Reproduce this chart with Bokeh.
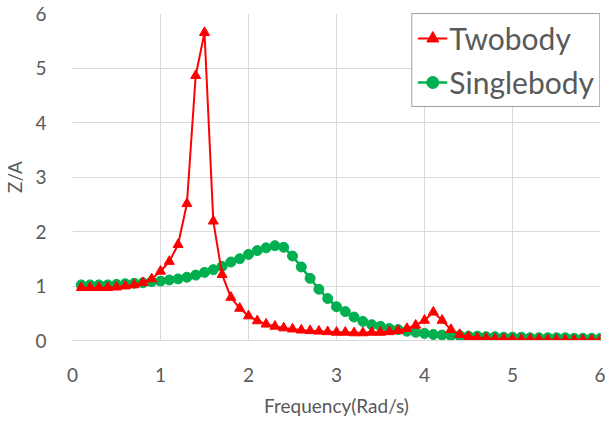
from bokeh.plotting import figure
from bokeh.embed import file_html
from bokeh.resources import INLINE
from bokeh.models import Range1d, FixedTicker, Legend

freq = [0.1, 0.2, 0.3, 0.4, 0.5, 0.6, 0.7, 0.8, 0.9, 1.0,
        1.1, 1.2, 1.3, 1.4, 1.5, 1.6, 1.7, 1.8, 1.9, 2.0,
        2.1, 2.2, 2.3, 2.4, 2.5, 2.6, 2.7, 2.8, 2.9, 3.0,
        3.1, 3.2, 3.3, 3.4, 3.5, 3.6, 3.7, 3.8, 3.9, 4.0,
        4.1, 4.2, 4.3, 4.4, 4.5, 4.6, 4.7, 4.8, 4.9, 5.0,
        5.1, 5.2, 5.3, 5.4, 5.5, 5.6, 5.7, 5.8, 5.9, 6.0]

twobody = [0.97, 0.97, 0.97, 0.97, 0.98, 1.00, 1.02, 1.06, 1.13, 1.27,
           1.45, 1.76, 2.51, 4.86, 5.65, 2.19, 1.21, 0.79, 0.59, 0.45,
           0.36, 0.30, 0.26, 0.23, 0.21, 0.19, 0.18, 0.17, 0.16, 0.15,
           0.15, 0.14, 0.14, 0.15, 0.15, 0.16, 0.18, 0.22, 0.28, 0.37,
           0.52, 0.37, 0.20, 0.11, 0.07, 0.05, 0.04, 0.03, 0.03, 0.02,
           0.02, 0.02, 0.02, 0.01, 0.01, 0.01, 0.01, 0.01, 0.01, 0.01]

singlebody = [1.02, 1.02, 1.02, 1.02, 1.03, 1.04, 1.05, 1.06, 1.08, 1.09,
              1.11, 1.13, 1.16, 1.20, 1.25, 1.30, 1.36, 1.44, 1.50, 1.58,
              1.65, 1.70, 1.74, 1.71, 1.55, 1.35, 1.14, 0.94, 0.77, 0.62,
              0.53, 0.43, 0.35, 0.29, 0.26, 0.22, 0.20, 0.17, 0.15, 0.13,
              0.11, 0.10, 0.09, 0.09, 0.08, 0.08, 0.07, 0.07, 0.06, 0.06,
              0.06, 0.05, 0.05, 0.05, 0.05, 0.05, 0.04, 0.04, 0.04, 0.04]

x_ticks = [0, 1, 2, 3, 4, 5, 6]
y_ticks = [0, 1, 2, 3, 4, 5, 6]

FONT = "Lato"
TXT = "#595959"
RED = "#FF0000"
GREEN = "#00B050"

p = figure(frame_width=528, frame_height=327, output_backend="svg", toolbar_location=None,
           x_range=Range1d(0, 6), y_range=Range1d(0, 6),
           min_border_left=0, min_border_right=5, min_border_top=13, min_border_bottom=0)
p.outline_line_color = None

p.xaxis.ticker = FixedTicker(ticks=x_ticks)
p.yaxis.ticker = FixedTicker(ticks=y_ticks)
for ax in (p.xaxis, p.yaxis):
    ax.major_tick_line_color = None
    ax.minor_tick_line_color = None
    ax.major_label_text_font = FONT
    ax.major_label_text_font_size = "19px"
    ax.major_label_text_color = TXT
    ax.axis_label_text_font = FONT
    ax.axis_label_text_font_size = "19px"
    ax.axis_label_text_color = TXT
    ax.axis_label_text_font_style = "normal"
p.xaxis.axis_line_color = "#D9D9D9"
p.yaxis.axis_line_color = None
p.xaxis.major_label_standoff = 21
p.yaxis.major_label_standoff = 20
p.xaxis.axis_label = "Frequency(Rad/s)"
p.yaxis.axis_label = "Z/A"
p.xaxis.axis_label_standoff = 9
p.yaxis.axis_label_standoff = 6

p.xgrid.grid_line_color = "#D9D9D9"
p.ygrid.grid_line_color = "#D9D9D9"

l1 = p.line(freq, twobody, line_color=RED, line_width=2)
m1 = p.scatter(freq, twobody, marker="triangle", size=10, fill_color=RED, line_color=RED)
l2 = p.line(freq, singlebody, line_color=GREEN, line_width=2.5)
m2 = p.scatter(freq, singlebody, marker="circle", size=10, fill_color=GREEN, line_color=GREEN)
# draw red on top of green
p.renderers = [l2, m2, l1, m1]

legend = Legend(items=[("Twobody", [l1, m1]), ("Singlebody", [l2, m2])],
                location="top_right", margin=0, padding=5, spacing=6,
                label_text_font=FONT, label_text_font_size="30px", label_text_color=TXT,
                label_standoff=2, glyph_width=30, glyph_height=38,
                border_line_color="#404040", border_line_width=1.5,
                background_fill_color="white", background_fill_alpha=1.0)
p.add_layout(legend, "center")

open("out.html", "w").write(file_html(p, INLINE))
